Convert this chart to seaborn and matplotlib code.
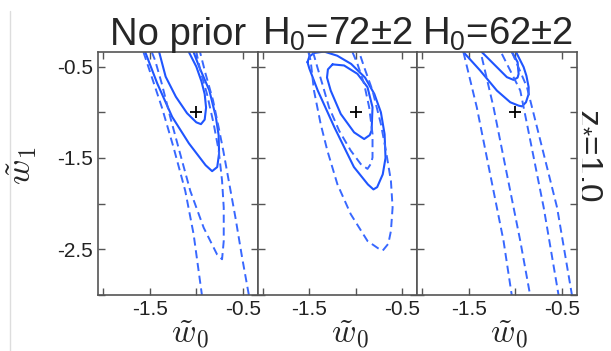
import numpy as np
import matplotlib
matplotlib.use("Agg")
import matplotlib.pyplot as plt
from matplotlib.lines import Line2D
import seaborn as sns

# panel titles and tick values
titles = ["No prior", "H$_\\mathrm{0}$=72\u00b12", "H$_\\mathrm{0}$=62\u00b12"]
xticks = [-2.0, -1.5, -1.0, -0.5]
xticklabels = ["", "-1.5", "", "-0.5"]
yticks = [-3.0, -2.5, -2.0, -1.5, -1.0, -0.5]
yticklabels = ["", "-2.5", "", "-1.5", "", "-0.5"]
fiducial = (-1.0, -1.0)

# contour paths (w0, w1)
# panel 1: no prior
p1_in_x = [-1.40, -1.33, -1.22, -1.10, -1.00, -0.95, -0.91, -0.895, -0.91, -0.945, -1.00, -1.08]
p1_in_y = [-0.34, -0.61, -0.83, -1.01, -1.11, -1.13, -1.08, -0.95, -0.80, -0.66, -0.50, -0.34]
p1_out_x = [-1.55, -1.42, -1.26, -1.08, -0.90, -0.83, -0.775, -0.755, -0.76, -0.79, -0.86, -0.97, -1.03]
p1_out_y = [-0.34, -0.685, -1.05, -1.34, -1.58, -1.645, -1.60, -1.45, -1.25, -1.05, -0.76, -0.50, -0.34]
p1_da_x = [-1.569, -1.479, -1.371, -1.245, -1.119, -1.029, -0.975, -0.94]
p1_da_y = [-0.34, -0.615, -0.945, -1.385, -1.861, -2.337, -2.74, -3.0]
p1_db_x = [-0.435, -0.507, -0.579, -0.651, -0.71, -0.76, -0.82, -0.90, -0.96]
p1_db_y = [-3.0, -2.593, -2.154, -1.751, -1.42, -1.165, -0.87, -0.58, -0.34]
p1_dc_x = [-1.479, -1.443, -1.371, -1.28, -1.173, -1.065, -0.921, -0.777, -0.723,
           -0.705, -0.705, -0.723, -0.759, -0.813, -0.885, -0.957, -1.0]
p1_dc_y = [-0.34, -0.432, -0.689, -1.055, -1.458, -1.861, -2.264, -2.557, -2.61,
           -2.41, -2.044, -1.75, -1.42, -1.128, -0.80, -0.542, -0.34]

# panel 2: H0 = 72 +- 2
p2_in_x = [-1.25, -1.30, -1.31, -1.27, -1.162, -1.018, -0.91, -0.85, -0.83, -0.82, -0.874, -0.982, -1.126, -1.25]
p2_in_y = [-0.475, -0.53, -0.62, -0.762, -1.018, -1.22, -1.293, -1.25, -1.20, -0.945, -0.725, -0.579, -0.487, -0.475]
p2_out_x = [-1.52, -1.50, -1.45, -1.34, -1.20, -1.05, -0.90, -0.80, -0.73, -0.69, -0.68, -0.71,
            -0.77, -0.81, -0.87, -1.02, -1.23, -1.41, -1.50, -1.52]
p2_out_y = [-0.45, -0.39, -0.35, -0.335, -0.38, -0.47, -0.62, -0.80, -1.00, -1.24, -1.50, -1.68,
            -1.82, -1.845, -1.79, -1.60, -1.165, -0.76, -0.52, -0.45]
p2_din_x = [-1.46, -1.414, -1.36, -1.288, -1.18, -1.054, -0.946, -0.874, -0.835, -0.82,
            -0.82, -0.856, -0.91, -0.982, -1.036]
p2_din_y = [-0.34, -0.505, -0.69, -0.945, -1.2, -1.42, -1.568, -1.62, -1.56, -1.495,
            -1.238, -0.945, -0.69, -0.47, -0.34]
p2_dout_x = [-1.51, -1.486, -1.45, -1.378, -1.306, -1.198, -1.054, -0.874, -0.76, -0.71, -0.65,
             -0.622, -0.604, -0.622, -0.676, -0.73, -0.82, -0.91, -0.964]
p2_dout_y = [-0.34, -0.432, -0.762, -1.128, -1.42, -1.788, -2.117, -2.41, -2.49, -2.515, -2.44,
             -2.3, -2.044, -1.75, -1.42, -1.128, -0.762, -0.505, -0.34]

# panel 3: H0 = 62 +- 2
p3_in_x = [-1.36, -1.198, -1.09, -1.018, -0.975, -0.964, -0.975, -1.036]
p3_in_y = [-0.34, -0.505, -0.615, -0.645, -0.62, -0.579, -0.45, -0.34]
p3_out_x = [-1.558, -1.378, -1.198, -1.054, -0.964, -0.928, -0.885, -0.856, -0.856, -0.88, -0.91, -0.982, -0.99]
p3_out_y = [-0.34, -0.542, -0.762, -0.89, -0.927, -0.935, -0.89, -0.80, -0.725, -0.60, -0.505, -0.359, -0.34]
p3_d1_x = [-1.558, -1.414, -1.27, -1.126, -1.036]
p3_d1_y = [-0.34, -0.945, -1.678, -2.41, -3.015]
p3_d2_x = [-1.36, -1.234, -1.09, -0.946, -0.838]
p3_d2_y = [-0.395, -0.945, -1.678, -2.41, -3.015]
p3_d3_x = [-1.144, -0.946, -0.838, -0.694, -0.532]
p3_d3_y = [-0.36, -0.762, -1.31, -2.044, -3.015]
p3_d4_x = [-1.036, -0.874, -0.73, -0.55, -0.388]
p3_d4_y = [-0.34, -0.725, -1.31, -2.044, -3.015]

panels = [
    [(p1_in_x, p1_in_y, "-"), (p1_out_x, p1_out_y, "-"), (p1_da_x, p1_da_y, "--"),
     (p1_db_x, p1_db_y, "--"), (p1_dc_x, p1_dc_y, "--")],
    [(p2_in_x, p2_in_y, "-"), (p2_out_x, p2_out_y, "-"), (p2_din_x, p2_din_y, "--"),
     (p2_dout_x, p2_dout_y, "--")],
    [(p3_in_x, p3_in_y, "-"), (p3_out_x, p3_out_y, "-"), (p3_d1_x, p3_d1_y, "--"),
     (p3_d2_x, p3_d2_y, "--"), (p3_d3_x, p3_d3_y, "--"), (p3_d4_x, p3_d4_y, "--")],
]

sns.set_theme(style="ticks")
plt.rcParams['font.family'] = ['Liberation Sans', 'DejaVu Sans']
plt.rcParams['mathtext.fontset'] = 'custom'
plt.rcParams['mathtext.rm'] = 'Liberation Sans'
plt.rcParams['mathtext.it'] = 'Liberation Sans:italic'
plt.rcParams['axes.unicode_minus'] = False

blue = '#1f55ff'
blue_dash = '#3868ff'
fig, axes = plt.subplots(1, 3, figsize=(6.11, 3.51), dpi=100, sharey=True)
fig.subplots_adjust(left=0.161, right=0.944, bottom=0.16, top=0.853, wspace=0)

for i, ax in enumerate(axes):
    for xs, ys, ls in panels[i]:
        if ls == "-":
            sns.lineplot(x=xs, y=ys, sort=False, estimator=None, ax=ax,
                         color=blue, lw=1.5)
        else:
            sns.lineplot(x=xs, y=ys, sort=False, estimator=None, ax=ax,
                         color=blue_dash, lw=1.4, linestyle=(0, (4.2, 2.4)))
    ax.plot([fiducial[0]], [fiducial[1]], marker='+', color='black', ms=8, mew=1.3)
    ax.set_xlim(-2.054, -0.338)
    ax.set_ylim(-3.0, -0.335)
    ax.set_xticks(xticks)
    ax.set_xticklabels(xticklabels)
    ax.set_yticks(yticks)
    ax.set_yticklabels(yticklabels)
    ax.tick_params(direction='in', top=True, right=True, length=5, width=1,
                   color='#555555', labelsize=15, pad=4, labelcolor='#222222')
    if i > 0:
        ax.tick_params(labelleft=False)
    for sp in ax.spines.values():
        sp.set_color('#555555')
        sp.set_linewidth(1.2)
    ax.set_title(titles[i], fontsize=27.5, pad=5)
    ax.set_xlabel(r'$\tilde{w}_0$', fontsize=24, math_fontfamily='cm')
    ax.xaxis.set_label_coords(0.575, -0.098)

axes[0].set_ylabel(r'$\tilde{w}_1$', fontsize=25, math_fontfamily='cm')
axes[0].yaxis.set_label_coords(-0.37, 0.53)

fig.text(592 / 611, 0.558, 'z$_{*}$=1.0', rotation=-90, ha='center', va='center', fontsize=24)
fig.add_artist(Line2D([10 / 611, 10 / 611], [0, 0.97], transform=fig.transFigure,
                      color='#dddddd', lw=1))

fig.savefig('out.png', dpi=100)
